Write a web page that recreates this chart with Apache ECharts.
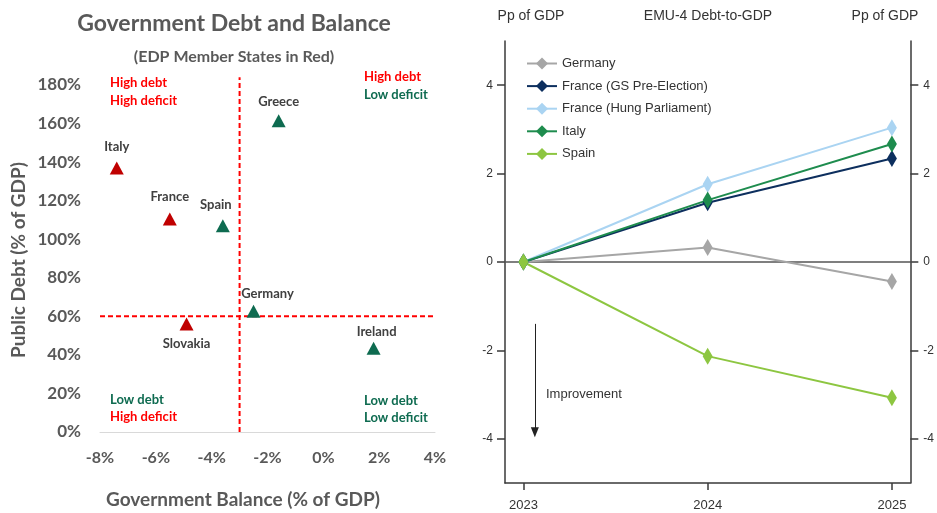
<!DOCTYPE html>
<html>
<head>
<meta charset="utf-8">
<script src="https://cdn.jsdelivr.net/npm/echarts@6/dist/echarts.min.js"></script>
<style>
  html, body { margin: 0; padding: 0; background: #ffffff; }
  #chart { width: 937px; height: 513px; }
</style>
</head>
<body>
<div id="chart"></div>
<script>
// ---- Left panel: government balance vs. public debt ----
const countries = ['Italy', 'France', 'Spain', 'Greece', 'Germany', 'Slovakia', 'Ireland'];
const balance   = [-7.4, -5.5, -3.6, -1.6, -2.5, -4.9, 1.8];     // % of GDP
const debt      = [137, 110.5, 107, 161.5, 62.7, 56, 43.5];      // % of GDP
const inEDP     = [true, true, false, false, false, true, false];
const debtThreshold = 60;
const deficitThreshold = -3;

// ---- Right panel: change in debt-to-GDP, pp since 2023 ----
const years      = [2023, 2024, 2025];
const germany    = [0, 0.33, -0.44];
const franceGS   = [0, 1.34, 2.34];
const franceHung = [0, 1.76, 3.04];
const italy      = [0, 1.40, 2.67];
const spain      = [0, -2.13, -3.07];
const ppTicks    = [-4, -2, 0, 2, 4];

const RED = '#C00000';
const GREEN = '#0E6B50';
const GREY_TEXT = '#595959';
const LEFT_FONT = 'Lato, "Open Sans", sans-serif';
const RIGHT_FONT = '"Liberation Sans", Arial, sans-serif';

// label placement for each country marker
const labelPlacement = {
  Italy:    { position: 'top', distance: 8 },
  France:   { position: 'top', distance: 9 },
  Spain:    { position: 'top', distance: 8, offset: [-7, 0] },
  Greece:   { position: 'top', distance: 6 },
  Germany:  { position: 'top', distance: 4, offset: [14, 0] },
  Slovakia: { position: 'bottom', distance: 7 },
  Ireland:  { position: 'top', distance: 3, offset: [3, 0] }
};

const scatterData = countries.map((name, i) => ({
  name: name,
  value: [balance[i], debt[i]],
  itemStyle: { color: inEDP[i] ? RED : GREEN, opacity: 1 },
  label: Object.assign({
    show: true,
    formatter: name,
    color: '#404040',
    fontFamily: LEFT_FONT,
    fontSize: 13,
    fontWeight: 'bold'
  }, labelPlacement[name])
}));

const lineSeries = (name, values, color) => ({
  name: name,
  type: 'line',
  xAxisIndex: 1,
  yAxisIndex: 1,
  data: years.map((y, i) => [y, values[i]]),
  symbol: 'diamond',
  symbolSize: [10, 17],
  lineStyle: { color: color, width: 2 },
  itemStyle: { color: color },
  z: 5
});

const chart = echarts.init(document.getElementById('chart'), null, { renderer: 'canvas' });

const quadText = (x, y, text, fill) => ({
  type: 'text', x: x, y: y,
  style: { text: text, verticalAlign: 'middle', fill: fill, font: 'bold 13px ' + LEFT_FONT }
});

chart.setOption({
  animation: false,
  backgroundColor: '#ffffff',
  grid: [
    { left: 100, top: 85 - 4 * 1.928, width: 335, height: 432 - 85 + 4 * 1.928 },
    { left: 505, right: 25, top: 41, bottom: 30 }
  ],
  xAxis: [
    {
      gridIndex: 0, type: 'value', min: -8, max: 4, interval: 2,
      axisLine: { show: true, onZero: false, lineStyle: { color: '#D9D9D9', width: 1 } },
      axisTick: { show: false },
      splitLine: { show: false },
      axisLabel: {
        formatter: v => v + '%', margin: 18,
        color: GREY_TEXT, fontFamily: LEFT_FONT, fontSize: 16, fontWeight: 'bold'
      }
    },
    {
      gridIndex: 1, type: 'value', min: 2022.9, max: 2025.1,
      axisLine: { show: true, onZero: false, lineStyle: { color: '#3a3a3a', width: 1.5 } },
      axisTick: { show: true, length: 7, customValues: years, lineStyle: { color: '#3a3a3a', width: 1.5 } },
      splitLine: { show: false },
      axisLabel: {
        customValues: years, formatter: v => String(v), margin: 16,
        color: '#333', fontFamily: RIGHT_FONT, fontSize: 13
      }
    }
  ],
  yAxis: [
    {
      gridIndex: 0, type: 'value', min: 0, max: 184, interval: 20,
      axisLine: { show: false },
      axisTick: { show: false },
      splitLine: { show: false },
      axisLabel: {
        showMaxLabel: false,
        formatter: v => v + '%', margin: 19,
        color: GREY_TEXT, fontFamily: LEFT_FONT, fontSize: 17, fontWeight: 'bold'
      }
    },
    {
      gridIndex: 1, type: 'value', min: -5, max: 5, position: 'left',
      axisLine: { show: true, lineStyle: { color: '#3a3a3a', width: 1.5 } },
      axisTick: { show: true, length: 8, customValues: ppTicks, lineStyle: { color: '#3a3a3a', width: 1.5 } },
      splitLine: { show: false },
      axisLabel: { customValues: ppTicks, margin: 12, color: '#333', fontFamily: RIGHT_FONT, fontSize: 12 }
    },
    {
      gridIndex: 1, type: 'value', min: -5, max: 5, position: 'right',
      axisLine: { show: true, lineStyle: { color: '#3a3a3a', width: 1.5 } },
      axisTick: { show: true, length: 8, customValues: ppTicks, lineStyle: { color: '#3a3a3a', width: 1.5 } },
      splitLine: { show: false },
      axisLabel: { customValues: ppTicks, margin: 13, color: '#333', fontFamily: RIGHT_FONT, fontSize: 12 }
    }
  ],
  legend: {
    data: ['Germany', 'France (GS Pre-Election)', 'France (Hung Parliament)', 'Italy', 'Spain'],
    orient: 'vertical',
    left: 521, top: 52,
    itemWidth: 30, itemHeight: 15, itemGap: 9.6,
    textStyle: { color: '#333', fontFamily: RIGHT_FONT, fontSize: 13 }
  },
  series: [
    // quadrant thresholds
    {
      type: 'line', xAxisIndex: 0, yAxisIndex: 0, silent: true, clip: false,
      data: [[deficitThreshold, 0], [deficitThreshold, 184]],
      symbol: 'none',
      lineStyle: { color: '#FF0000', width: 2, type: [5, 3] }
    },
    {
      type: 'line', xAxisIndex: 0, yAxisIndex: 0, silent: true, clip: false,
      data: [[-8, debtThreshold], [4.15, debtThreshold]],
      symbol: 'none',
      lineStyle: { color: '#FF0000', width: 2, type: [5, 3] }
    },
    {
      type: 'scatter', xAxisIndex: 0, yAxisIndex: 0,
      symbol: 'triangle', symbolSize: [14, 13],
      itemStyle: { opacity: 1 },
      data: scatterData,
      z: 6
    },
    // zero reference line and direction arrow
    {
      type: 'line', xAxisIndex: 1, yAxisIndex: 1, silent: true, clip: false,
      data: [[2022.86, 0], [2025.14, 0]],
      symbol: 'none',
      lineStyle: { color: '#555', width: 1.5 },
      z: 2
    },
    {
      type: 'line', xAxisIndex: 1, yAxisIndex: 1, silent: true,
      data: [],
      markLine: {
        silent: true,
        symbol: ['none', 'triangle'],
        symbolSize: [8, 10],
        lineStyle: { color: '#222', width: 1, type: 'solid' },
        label: { show: false },
        data: [[{ coord: [2023.062, -1.4] }, { coord: [2023.062, -3.85] }]]
      }
    },
    lineSeries('Germany', germany, '#A6A6A6'),
    lineSeries('France (GS Pre-Election)', franceGS, '#0D2F5E'),
    lineSeries('France (Hung Parliament)', franceHung, '#AAD4F2'),
    lineSeries('Italy', italy, '#1E8C4E'),
    lineSeries('Spain', spain, '#8DC641')
  ],
  graphic: [
    // left panel titles and axis names
    { type: 'text', x: 234, y: 24, style: { text: 'Government Debt and Balance', align: 'center', verticalAlign: 'middle',
      fill: GREY_TEXT, font: 'bold 23px ' + LEFT_FONT } },
    { type: 'text', x: 234, y: 57, style: { text: '(EDP Member States in Red)', align: 'center', verticalAlign: 'middle',
      fill: GREY_TEXT, font: 'bold 16px ' + LEFT_FONT } },
    { type: 'text', x: 243, y: 500, style: { text: 'Government Balance (% of GDP)', align: 'center', verticalAlign: 'middle',
      fill: GREY_TEXT, font: 'bold 19px ' + LEFT_FONT } },
    { type: 'text', x: 19, y: 260, rotation: Math.PI / 2, style: { text: 'Public Debt (% of GDP)', align: 'center', verticalAlign: 'middle',
      fill: GREY_TEXT, font: 'bold 19px ' + LEFT_FONT } },
    // quadrant annotations
    quadText(110, 83, 'High debt', '#FF0000'),
    quadText(110, 101, 'High deficit', '#FF0000'),
    quadText(364, 77, 'High debt', '#FF0000'),
    quadText(364, 95, 'Low deficit', GREEN),
    quadText(110, 400, 'Low debt', GREEN),
    quadText(110, 417, 'High deficit', '#FF0000'),
    quadText(364, 401, 'Low debt', GREEN),
    quadText(364, 418, 'Low deficit', GREEN),
    // right panel headers
    { type: 'text', x: 531, y: 16, style: { text: 'Pp of GDP', align: 'center', verticalAlign: 'middle', fill: '#333', font: '14px ' + RIGHT_FONT } },
    { type: 'text', x: 708, y: 16, style: { text: 'EMU-4 Debt-to-GDP', align: 'center', verticalAlign: 'middle', fill: '#333', font: '14px ' + RIGHT_FONT } },
    { type: 'text', x: 885, y: 16, style: { text: 'Pp of GDP', align: 'center', verticalAlign: 'middle', fill: '#333', font: '14px ' + RIGHT_FONT } },
    { type: 'text', x: 546, y: 394, style: { text: 'Improvement', verticalAlign: 'middle', fill: '#333', font: '13px ' + RIGHT_FONT } }
  ]
});
</script>
</body>
</html>
